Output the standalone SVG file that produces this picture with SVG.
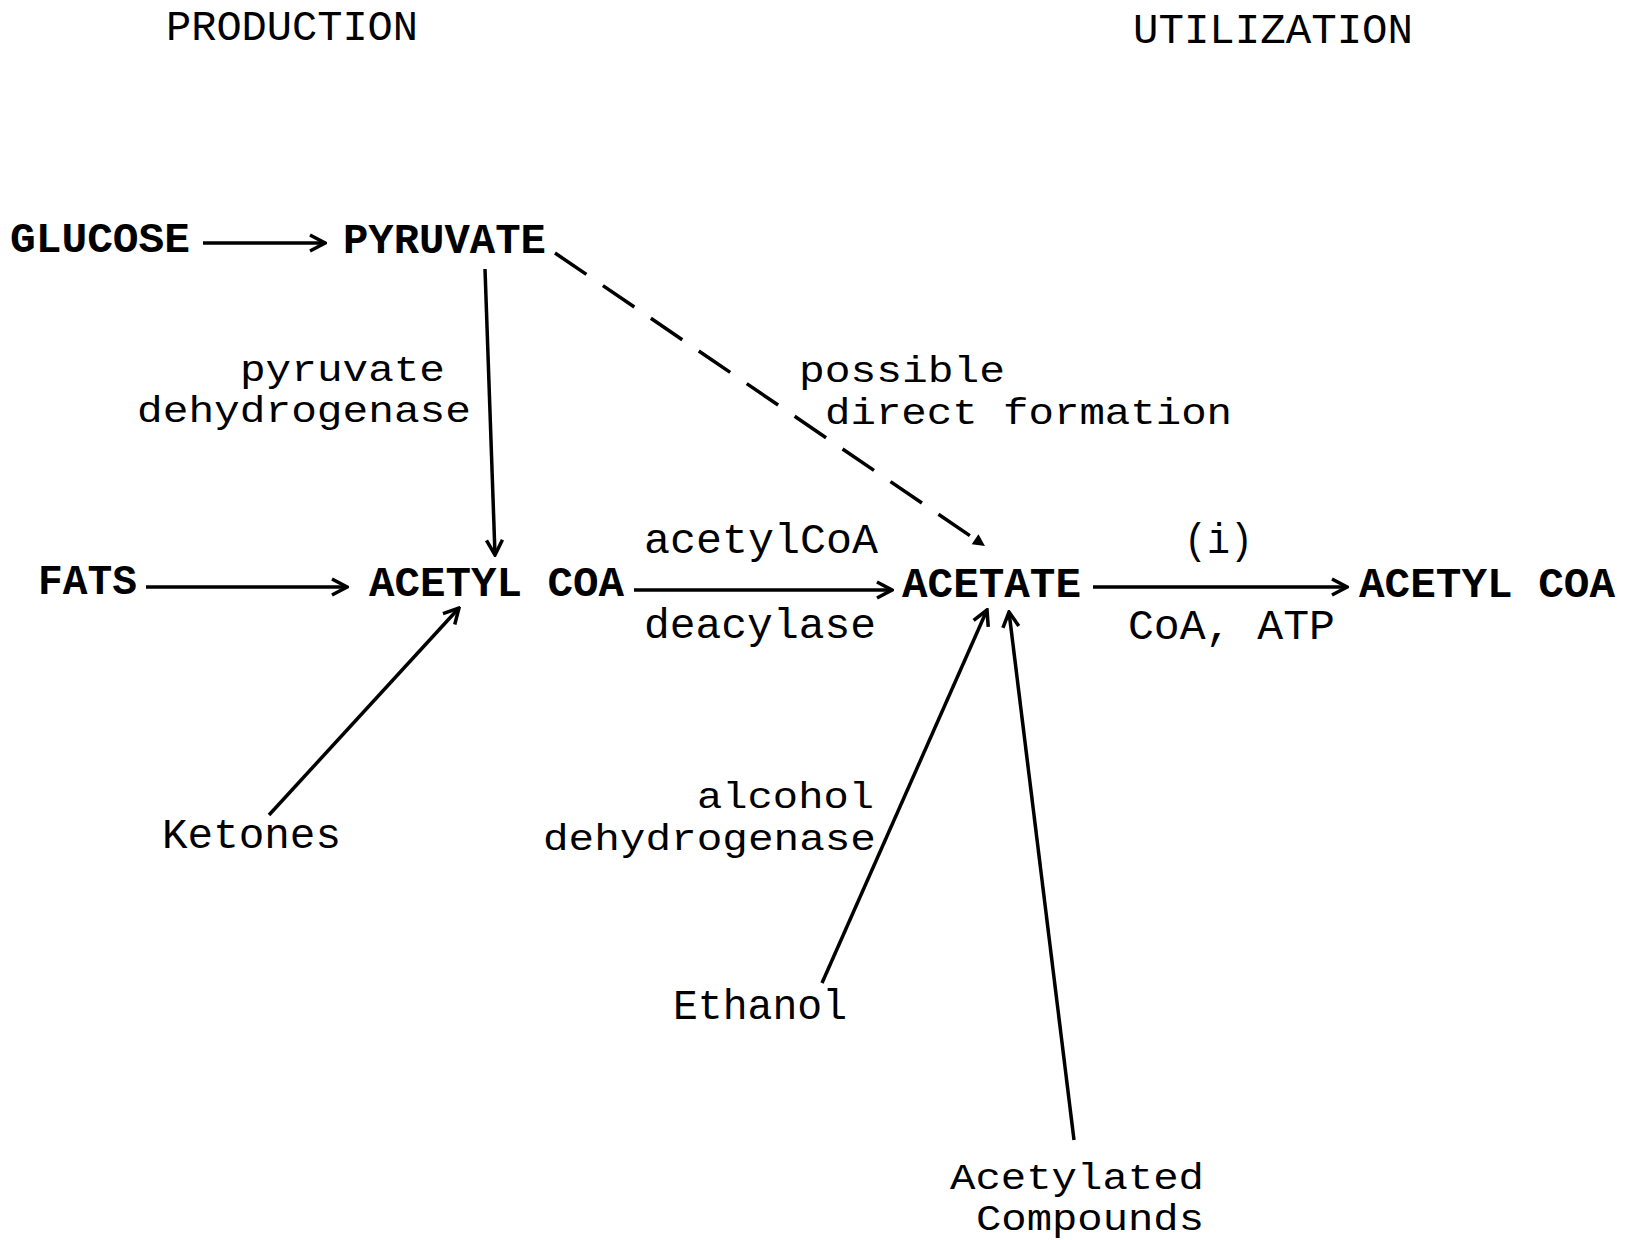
<svg xmlns="http://www.w3.org/2000/svg" width="1635" height="1240" viewBox="0 0 1635 1240">
<style>
text{font-family:"Liberation Mono","DejaVu Sans Mono",monospace;font-size:42px;fill:#000}
.cmp{font-weight:bold}
.st{font-size:36px}
.ln{stroke:#000;stroke-width:3.5;fill:none}
.dash{stroke:#000;stroke-width:3.5;fill:none;stroke-dasharray:38 20}
</style>
<defs>
<marker id="open" viewBox="0 0 22 22" refX="20" refY="11" markerWidth="22" markerHeight="22" markerUnits="userSpaceOnUse" orient="auto">
<path d="M5,3 L20,11 L5,19" stroke="#000" stroke-width="3.5" fill="none"/>
</marker>
<marker id="fill" viewBox="0 0 16 16" refX="14" refY="8" markerWidth="16" markerHeight="16" markerUnits="userSpaceOnUse" orient="auto">
<path d="M2,2 L14,8 L2,14 Z" fill="#000"/>
</marker>
</defs>
<g id="headers">
<text x="166" y="40" textLength="252" lengthAdjust="spacingAndGlyphs">PRODUCTION</text>
<text x="1133" y="43" textLength="280" lengthAdjust="spacingAndGlyphs">UTILIZATION</text>
</g>
<g id="glucose"><text class="cmp" x="10" y="252" textLength="180" lengthAdjust="spacingAndGlyphs">GLUCOSE</text></g>
<g id="pyruvate"><text class="cmp" x="343" y="253" textLength="203" lengthAdjust="spacingAndGlyphs">PYRUVATE</text></g>
<g id="fats"><text class="cmp" x="38" y="594" textLength="99" lengthAdjust="spacingAndGlyphs">FATS</text></g>
<g id="acetylcoa1"><text class="cmp" x="369" y="596" textLength="255" lengthAdjust="spacingAndGlyphs">ACETYL COA</text></g>
<g id="acetate"><text class="cmp" x="902" y="597" textLength="179" lengthAdjust="spacingAndGlyphs">ACETATE</text></g>
<g id="acetylcoa2"><text class="cmp" x="1359" y="597" textLength="256" lengthAdjust="spacingAndGlyphs">ACETYL COA</text></g>
<g id="ketones"><text x="162" y="848" textLength="179" lengthAdjust="spacingAndGlyphs">Ketones</text></g>
<g id="ethanol"><text x="673" y="1019" textLength="174" lengthAdjust="spacingAndGlyphs">Ethanol</text></g>
<g id="acetylated"><text class="st" x="950" y="1189" textLength="254" lengthAdjust="spacingAndGlyphs">Acetylated</text>
<text class="st" x="976" y="1230" textLength="228" lengthAdjust="spacingAndGlyphs">Compounds</text></g>
<g id="labels">
<text class="st" x="240" y="381" textLength="205" lengthAdjust="spacingAndGlyphs">pyruvate</text>
<text class="st" x="137" y="422" textLength="334" lengthAdjust="spacingAndGlyphs">dehydrogenase</text>
<text class="st" x="799" y="382" textLength="206" lengthAdjust="spacingAndGlyphs">possible</text>
<text class="st" x="825" y="424" textLength="407" lengthAdjust="spacingAndGlyphs">direct formation</text>
<text x="644" y="553" textLength="234" lengthAdjust="spacingAndGlyphs">acetylCoA</text>
<text x="644" y="638" textLength="232" lengthAdjust="spacingAndGlyphs">deacylase</text>
<text x="1184" y="553" textLength="69" lengthAdjust="spacingAndGlyphs">(i)</text>
<text x="1128" y="639" textLength="207" lengthAdjust="spacingAndGlyphs">CoA, ATP</text>
<text class="st" x="697" y="808" textLength="177" lengthAdjust="spacingAndGlyphs">alcohol</text>
<text class="st" x="543" y="850" textLength="333" lengthAdjust="spacingAndGlyphs">dehydrogenase</text>
</g>
<g id="connectors">
<line class="ln" x1="203" y1="243" x2="325" y2="243" marker-end="url(#open)"/>
<line class="ln" x1="485" y1="269" x2="495" y2="555" marker-end="url(#open)"/>
<line class="dash" x1="555" y1="253" x2="985" y2="546" marker-end="url(#fill)"/>
<line class="ln" x1="146" y1="587" x2="347" y2="587" marker-end="url(#open)"/>
<line class="ln" x1="269" y1="815" x2="459" y2="608" marker-end="url(#open)"/>
<line class="ln" x1="634" y1="590" x2="892" y2="590" marker-end="url(#open)"/>
<line class="ln" x1="1093" y1="587" x2="1347" y2="587" marker-end="url(#open)"/>
<line class="ln" x1="822" y1="983" x2="987" y2="610" marker-end="url(#open)"/>
<line class="ln" x1="1074" y1="1140" x2="1009" y2="612" marker-end="url(#open)"/>
</g>
</svg>
